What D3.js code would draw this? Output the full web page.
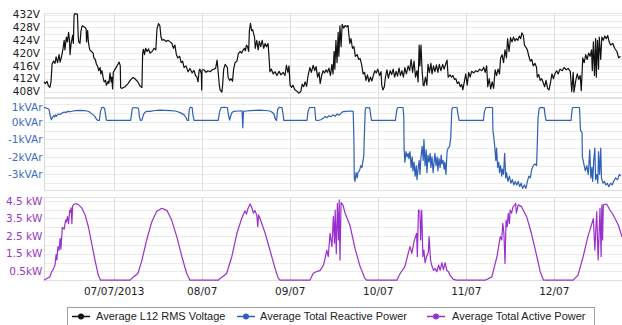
<!DOCTYPE html>
<html>
<head>
<meta charset="utf-8">
<script src="https://cdn.jsdelivr.net/npm/d3@7"></script>
<style>
  html, body { margin: 0; padding: 0; background: #fff; }
  svg { display: block; }
</style>
</head>
<body>
<svg id="chart" width="622" height="325"></svg>
<script>
// ---------- DATA (hours since 06/07/2013 00:00, value) ----------
const dayTicks = [24, 48, 72, 96, 120, 144];
const dayTickLabels = ["07/07/2013", "08/07", "09/07", "10/07", "11/07", "12/07"];
const timeDomainHours = [5, 162.6];

const voltageTicks = [408, 412, 416, 420, 424, 428, 432];
const voltageTickLabels = ["408V", "412V", "416V", "420V", "424V", "428V", "432V"];
const reactiveTicks = [-3, -2, -1, 0, 1];
const reactiveTickLabels = ["-3kVAr", "-2kVAr", "-1kVAr", "0kVAr", "1kVAr"];
const activeTicks = [0.5, 1.5, 2.5, 3.5, 4.5];
const activeTickLabels = ["0.5kW", "1.5 kW", "2.5 kW", "3.5 kW", "4.5 kW"];

const seriesNames = ["Average L12 RMS Voltage", "Average Total Reactive Power", "Average Total Active Power"];

const voltage = [
[5.0,411],[5.4,410.5],[5.8,411.2],[6.2,409.8],[6.6,409.3],[6.9,411],[7.2,416.5],[7.6,417.5],[8.0,416.8],[8.3,418.8],
[8.7,417],[9.1,419.5],[9.4,417.2],[9.8,419],[10.2,421.5],[10.5,424],[10.7,421],[11.1,425],[11.4,423.5],[11.7,426.5],
[11.95,424],[12.1,419.5],[12.4,423],[12.8,425.5],[13.0,423],[13.2,431.8],[13.4,432.3],[14.1,432.2],[14.35,425],[14.45,423.6],
[14.8,423],[15.1,427],[15.4,428.5],[15.9,428.2],[16.2,428],[16.5,427.5],[16.6,423.5],[16.9,427],[17.1,423.6],[17.3,422],
[17.5,421],[17.95,420.5],[18.4,420],[18.6,418.5],[19.0,418],[19.3,416.5],[19.6,416],[19.9,414.5],[20.3,415.5],[20.5,413.5],
[20.8,414.5],[21.1,412.5],[21.4,411],[21.8,411.5],[22.0,410],[22.5,411.2],[22.7,410.5],[23.0,413.8],[23.3,411],[23.5,412.5],
[23.7,408.8],[23.9,414],[24.4,415],[24.9,416],[25.5,417.2],[25.8,416],[25.9,409.2],[26.3,409],[27.1,409.5],[27.9,410.5],
[28.7,411.8],[29.3,412.4],[29.8,412],[30.6,411],[31.2,409.7],[31.7,409.3],[31.9,420],[32.1,421.2],[32.4,419.5],[32.7,421.5],
[33.1,420.5],[33.5,421.3],[33.9,420],[34.5,420.5],[35.0,421.5],[35.5,421],[35.8,427.5],[36.2,429.2],[36.6,428.5],[36.9,425],
[37.2,424],[37.7,424.2],[38.3,423.6],[38.8,424],[39.4,423.5],[39.9,423],[40.3,421.5],[40.7,422.5],[41.1,419.5],[41.5,418.5],
[42.0,419],[42.4,417],[42.8,417.5],[43.2,415.5],[43.7,416],[44.3,414.2],[44.8,415.2],[45.4,413.8],[45.9,414.6],[46.3,413],
[46.7,412.5],[47.0,411],[47.3,414.5],[47.5,415],[47.9,413.5],[48.0,408.5],[48.1,414.8],[48.6,414.8],[49.2,414],[49.7,414.5],
[50.3,414.2],[50.8,414.7],[51.4,415],[51.8,415.3],[52.2,417.8],[52.5,414],[52.8,410],[53.0,408.5],[53.5,407.8],[53.7,410],
[54.0,415],[54.4,416.5],[55.0,415.5],[55.2,412.5],[55.6,411.5],[56.0,412],[56.4,411.2],[56.7,415],[57.1,417],[57.6,417.5],
[58.0,419.8],[58.5,420.5],[58.9,420],[59.3,421],[59.7,421.5],[59.9,420.7],[60.2,422.5],[60.5,422],[60.8,420.5],[61.0,427],
[61.3,429.3],[61.6,427],[61.9,427.3],[62.1,426.3],[62.4,425],[62.6,421.5],[63.0,424],[63.4,421],[63.7,423.7],[64.1,422],
[64.5,424],[64.9,421.5],[65.3,423],[65.7,422],[66.1,423],[66.4,418],[66.6,414.2],[67.0,415],[67.5,413.5],[68.0,414.2],
[68.5,413],[69.1,414.3],[69.6,413.2],[70.2,414],[70.7,413],[71.1,416.2],[71.5,414],[71.8,416],[72.1,410],[72.5,409.3],
[72.9,410],[73.3,408.7],[73.7,408.3],[74.1,408],[74.5,407.5],[75.0,408],[75.4,410.3],[75.8,409.5],[76.2,411],[76.6,409.6],
[77.0,413],[77.5,415.5],[77.9,414],[78.4,416.2],[78.8,414.5],[79.2,415.8],[79.6,412.5],[80.0,414],[80.3,410.5],[80.7,413],
[81.1,414.5],[81.5,413.8],[81.9,414.8],[82.3,414],[82.7,415.3],[83.1,413],[83.5,416.5],[83.8,413.5],[84.1,420.5],[84.3,415],
[84.6,424],[84.9,417],[85.2,426.5],[85.4,419],[85.7,428.5],[86.0,422],[86.3,429],[86.7,427.8],[87.1,428.6],[87.5,428.2],
[87.9,428.6],[88.1,426],[88.4,423],[88.7,424.5],[89.1,421.5],[89.5,422],[89.9,419],[90.4,419.5],[90.8,418],[91.2,418.3],
[91.6,416.5],[92.0,413.5],[92.4,414],[92.8,411.5],[93.2,413.2],[93.6,411],[94.0,412.5],[94.4,411.3],[94.8,413],[95.2,414.5],
[95.6,413.8],[96.0,415],[96.5,413],[96.9,414.2],[97.1,410],[97.4,408.5],[97.8,409.5],[98.1,412.5],[98.5,414.8],[98.9,412.2],
[99.4,414.5],[99.8,413.3],[100.2,415],[100.6,412.5],[101.0,414.3],[101.4,412.8],[101.8,415.3],[102.2,413],[102.6,414.5],[103.0,412.5],
[103.4,415.5],[103.8,413.5],[104.3,416],[104.7,414.5],[105.1,418],[105.5,414],[105.9,417.5],[106.3,412.5],[106.7,414.5],[107.0,411],
[107.3,422.5],[107.5,416],[107.8,422.5],[108.1,414.5],[108.4,410],[108.6,409.8],[109.0,412.5],[109.4,410],[109.7,416.5],[110.1,414],
[110.5,416.8],[110.8,413.5],[111.2,416],[111.6,414.2],[112.0,416.3],[112.4,414],[112.8,416.5],[113.2,414.5],[113.7,416.5],[114.1,415],
[114.5,416.5],[114.9,417.8],[115.2,412.5],[115.7,413.2],[116.1,412.5],[116.5,413],[116.9,411.8],[117.3,412],[117.7,410.5],[118.1,411],
[118.5,409.5],[118.9,410.2],[119.2,408.5],[119.6,411],[120.0,413.5],[120.4,410],[120.8,414],[121.2,412.5],[121.6,414.3],[122.2,413.8],
[122.7,414.5],[123.3,414.2],[123.8,415],[124.4,414.5],[124.9,415.6],[125.3,414],[125.7,416],[126.0,409.5],[126.4,412],[126.8,408.8],
[127.2,411],[127.6,409],[128.0,414.8],[128.4,413],[128.8,415],[129.2,413.5],[129.5,418.5],[129.9,419.5],[130.3,417],[130.7,421],
[131.1,418.5],[131.4,424.5],[131.8,420.5],[132.2,424.8],[132.6,423.5],[133.0,425],[133.4,423.8],[133.8,424.5],[134.2,424],[134.6,425.3],
[135.0,424.5],[135.3,426.3],[135.7,425.5],[136.0,422.5],[136.4,421.8],[136.8,421],[137.2,419],[137.6,417.5],[138.0,418],[138.4,416],
[138.9,416.8],[139.3,415.5],[139.5,412.5],[139.9,413.3],[140.3,411.5],[140.7,412],[141.1,410.8],[141.5,409.5],[141.9,411.5],[142.3,409],
[142.7,408.5],[143.1,410.8],[143.5,413.5],[143.9,412],[144.4,413.8],[144.8,414.5],[145.2,413.5],[145.7,415],[146.3,414.5],[146.8,415.5],
[147.4,414.8],[147.9,415.2],[148.5,414.3],[148.9,408],[149.3,414],[149.5,407.8],[150.0,411.5],[150.4,413.5],[150.8,411.8],[151.2,413],
[151.5,408.3],[151.9,418.5],[152.3,417],[152.7,419.5],[153.1,418],[153.5,420],[153.9,419],[154.3,421],[154.5,414.5],[154.8,423.5],
[155.1,413],[155.4,424.5],[155.6,412.5],[155.9,424],[156.2,415],[156.4,425],[156.8,418],[157.1,425],[157.5,424],[157.9,425.3],
[158.3,424.5],[158.7,425.5],[159.1,423.5],[159.5,422.5],[160.1,423],[160.6,421.5],[161.2,420.5],[161.7,418.5],[162.2,419]
];

const reactive = [
[5.0,0.8],[5.3,0.82],[5.7,0.78],[6.1,0.75],[6.4,0.7],[6.6,0.45],[7.0,0.12],[7.3,0.25],[7.6,0.35],[7.9,0.28],
[8.1,0.4],[8.4,0.32],[8.8,0.45],[9.4,0.42],[9.9,0.5],[10.5,0.56],[11.0,0.54],[11.5,0.6],[12.1,0.58],[12.9,0.62],
[13.7,0.64],[14.8,0.66],[15.9,0.64],[16.7,0.62],[17.3,0.58],[17.8,0.5],[18.4,0.4],[18.9,0.3],[19.3,0.15],[19.7,0.08],
[20.1,0.08],[20.4,0.6],[20.7,0.8],[21.1,0.83],[21.5,0.78],[21.8,0.4],[22.0,0.1],[22.3,0.08],[28.6,0.08],[28.9,0.5],
[29.1,0.78],[29.5,0.82],[30.4,0.8],[30.8,0.75],[31.0,0.3],[31.3,0.08],[31.7,0.1],[32.1,0.4],[32.5,0.55],[33.1,0.6],
[33.9,0.6],[35.3,0.65],[36.6,0.67],[38.0,0.66],[39.4,0.64],[40.7,0.62],[41.5,0.58],[42.4,0.5],[43.2,0.4],[43.7,0.25],
[44.1,0.08],[44.4,0.08],[44.6,0.7],[44.9,0.83],[45.4,0.82],[45.6,0.4],[45.9,0.08],[52.5,0.08],[52.9,0.6],[53.3,0.82],
[54.1,0.83],[55.0,0.82],[55.3,0.4],[55.6,0.1],[55.9,0.35],[56.3,0.55],[56.8,0.6],[57.9,0.62],[59.0,0.63],[59.2,-0.34],
[59.4,0.6],[60.1,0.62],[61.2,0.64],[62.5,0.66],[63.9,0.67],[65.3,0.65],[66.6,0.62],[67.2,0.55],[67.7,0.45],[68.1,0.15],
[68.4,0.08],[68.7,0.7],[69.1,0.83],[69.9,0.82],[70.2,0.4],[70.4,0.08],[76.7,0.08],[77.0,0.6],[77.4,0.82],[78.8,0.82],
[79.1,0.1],[79.7,0.08],[80.5,0.12],[81.1,0.2],[81.6,0.3],[82.2,0.25],[82.7,0.35],[83.3,0.3],[83.8,0.4],[84.4,0.32],
[84.9,0.45],[85.4,0.38],[86.0,0.5],[86.5,0.58],[87.4,0.6],[88.4,0.62],[89.3,0.6],[89.5,-1.0],[89.6,-3.2],[89.8,-3.4],
[90.1,-2.9],[90.4,-3.2],[90.6,-2.9],[91.0,-2.8],[91.4,-2.5],[91.7,-2.6],[92.0,-2.2],[92.2,-1.9],[92.3,-1.1],[92.6,0.7],
[92.8,0.82],[93.8,0.8],[94.0,0.5],[94.3,0.08],[100.8,0.08],[101.2,0.7],[101.5,0.82],[102.9,0.82],[103.1,0.3],[103.2,-1.6],
[103.4,-2.3],[103.7,-1.7],[104.0,-2.0],[104.3,-1.8],[104.5,-2.1],[104.8,-1.7],[105.1,-2.6],[105.4,-2.0],[105.6,-2.8],[105.9,-2.3],
[106.2,-3.1],[106.5,-2.5],[106.7,-3.3],[107.0,-2.7],[107.3,-2.2],[107.5,-3.0],[107.8,-2.0],[108.1,-1.4],[108.4,-2.2],[108.6,-1.0],
[108.9,-2.5],[109.2,-1.6],[109.4,-2.9],[109.7,-1.9],[110.0,-2.3],[110.3,-1.8],[110.5,-2.6],[110.8,-2.0],[111.1,-2.9],[111.4,-2.2],
[111.6,-1.8],[111.9,-2.5],[112.2,-2.0],[112.4,-2.8],[112.7,-2.1],[113.0,-2.6],[113.3,-1.9],[113.5,-2.4],[113.8,-2.2],[114.1,-2.7],
[114.3,-2.3],[114.6,-3.0],[114.9,-1.7],[115.2,-1.5],[115.6,-1.4],[115.9,-0.9],[116.2,0.7],[116.5,0.82],[117.6,0.82],[117.9,0.4],
[118.2,0.08],[124.8,0.08],[125.1,0.6],[125.5,0.82],[127.3,0.82],[127.4,-0.5],[127.6,-0.8],[127.9,-1.4],[128.2,-2.2],[128.4,-1.5],
[128.7,-2.6],[129.0,-2.3],[129.2,-2.9],[129.5,-2.5],[129.8,-3.1],[130.0,-2.7],[130.3,-3.0],[130.6,-1.8],[130.9,-3.2],[131.1,-2.9],
[131.5,-3.4],[131.9,-3.1],[132.3,-3.5],[132.7,-3.3],[133.1,-3.6],[133.5,-3.4],[133.9,-3.6],[134.3,-3.4],[134.7,-3.7],[135.1,-3.5],
[135.5,-3.8],[136.0,-3.6],[136.4,-3.8],[136.8,-3.4],[137.2,-3.1],[137.6,-3.2],[138.0,-2.7],[138.4,-2.5],[138.9,-2.4],[139.3,-2.5],
[139.5,-1.3],[139.7,0.2],[140.0,0.75],[140.4,0.83],[141.4,0.8],[141.6,0.4],[141.9,0.08],[148.7,0.08],[149.0,0.7],[149.2,0.82],
[151.0,0.82],[151.3,-0.5],[151.7,-0.6],[151.8,-2.0],[152.2,-2.4],[152.6,-2.8],[153.0,-2.5],[153.4,-3.0],[153.8,-1.6],[154.1,-3.2],
[154.4,-2.6],[154.6,-3.4],[154.9,-2.2],[155.2,-1.5],[155.4,-3.3],[155.7,-3.0],[156.0,-3.5],[156.2,-1.7],[156.5,-3.0],[156.8,-1.5],
[157.0,-3.2],[157.4,-3.5],[157.8,-3.4],[158.2,-3.6],[158.6,-3.5],[159.0,-3.7],[159.5,-3.5],[159.9,-3.6],[160.3,-3.4],[160.8,-3.2],
[161.4,-3.3],[161.9,-3.0],[162.2,-3.1]
];

const active = [
[5.0,0],[5.8,0.1],[6.6,0.2],[7.1,0.48],[7.5,0.6],[8.0,0.86],[8.3,1.45],[8.5,1.15],[8.8,1.9],[9.1,1.7],
[9.4,2.37],[9.6,1.76],[10.0,2.99],[10.5,2.9],[10.9,3.41],[11.1,3.3],[11.4,3.6],[11.7,3.2],[12.0,3.95],[12.2,3.85],
[12.4,4.1],[12.6,3.2],[12.8,4.2],[13.2,4.32],[13.7,4.33],[14.3,4.3],[15.3,4.1],[16.2,3.7],[17.1,3.03],[18.0,2.09],
[18.9,1.14],[19.8,0.29],[20.4,0],[28.5,0],[29.3,0.17],[30.6,0.38],[31.6,1.05],[33.0,2.28],[34.4,3.32],[35.7,3.89],
[37.1,4.08],[38.5,3.96],[39.8,3.41],[41.2,2.47],[42.6,1.33],[43.9,0.38],[44.8,0],[52.5,0],[53.0,0.1],[54.8,0.38],
[56.2,1.33],[57.6,2.66],[58.9,3.5],[59.8,3.94],[60.2,3.75],[60.6,4.05],[61.2,4.32],[61.6,4.15],[62.1,3.8],[62.5,3.95],
[63.0,3.7],[63.3,3.03],[63.5,3.7],[63.9,3.5],[65.3,2.66],[66.6,1.71],[68.0,0.67],[68.9,0.1],[69.4,0],[77.5,0],
[78.4,0.38],[78.9,0.45],[80.3,0.56],[81.2,0.86],[81.6,1.2],[82.1,1.71],[82.5,1.33],[83.0,2.66],[83.5,1.9],[83.9,3.6],
[84.2,2.1],[84.4,3.98],[84.7,1.5],[85.0,4.36],[85.3,2.28],[85.5,4.55],[85.7,1.14],[86.0,4.4],[86.5,4.27],[87.1,3.8],
[88.4,3.13],[89.8,1.8],[91.2,0.77],[92.5,0.1],[93.0,0],[101.2,0],[102.1,0.38],[103.4,0.77],[104.3,1.52],[104.8,1.9],
[105.3,1.52],[105.9,2.2],[106.6,2.66],[106.8,1.33],[107.1,3.98],[107.5,3.9],[107.7,2.28],[108.0,3.98],[108.3,1.33],[108.6,1.7],
[108.9,0.99],[109.3,1.33],[109.8,1.6],[110.0,2.47],[110.4,1.14],[110.7,0.86],[111.2,0.56],[111.6,0.67],[112.1,0.48],[112.6,0.86],
[113.0,0.56],[113.5,0.99],[113.9,0.6],[114.4,0.99],[114.8,0.56],[115.3,0.48],[115.7,0.29],[116.6,0.05],[117.5,0],[125.3,0],
[127.1,0.19],[128.5,1.33],[129.4,2.47],[129.8,2.28],[130.1,3.22],[130.4,2.66],[130.7,0.95],[131.0,3.41],[131.3,3.03],[131.6,3.79],
[131.9,3.22],[132.1,3.98],[132.5,3.8],[132.9,4.17],[133.4,4.27],[133.6,4.36],[133.8,3.8],[134.3,4.27],[135.2,4.17],[136.6,3.6],
[137.9,2.66],[139.4,1.33],[140.3,0.48],[141.2,0],[149.3,0],[150.6,0.29],[152.0,1.33],[153.3,2.47],[154.8,3.5],[155.2,1.71],
[155.7,3.89],[156.1,1.14],[156.6,4.08],[156.9,1.33],[157.1,4.27],[157.3,2.28],[157.5,4.27],[158.4,4.32],[159.3,3.98],[160.2,3.7],
[161.6,3.13],[162.6,2.46]
];

// ---------- RENDER ----------
const svg = d3.select("#chart");
const base = Date.UTC(2013, 6, 6, 0, 0, 0);
const toDate = h => new Date(base + h * 3600 * 1000);

const x = d3.scaleUtc()
  .domain(timeDomainHours.map(toDate))
  .range([44, 622]);

const panels = [
  { data: voltage, domain: [406.3, 432.6], range: [97, 12.7], grid: d3.range(408, 433, 2),
    ticks: voltageTicks, labels: voltageTickLabels, color: "#111111", labelColor: "#222222", labelX: 40, minLabelY: null },
  { data: reactive, domain: [-3.89, 1.38], range: [190, 97.7], grid: d3.range(-3.5, 1.01, 0.5),
    ticks: reactiveTicks, labels: reactiveTickLabels, color: "#2f5fb8", labelColor: "#3c6cc4", labelX: 42.5, minLabelY: 107.7 },
  { data: active, domain: [0, 4.7], range: [280.2, 197.3], grid: d3.range(0.5, 4.51, 0.5),
    ticks: activeTicks, labels: activeTickLabels, color: "#9a2fd0", labelColor: "#9a35c8", labelX: 42.5, minLabelY: null }
];

const font = "'DejaVu Sans', Verdana, sans-serif";

panels.forEach(p => {
  const y = d3.scaleLinear().domain(p.domain).range(p.range);
  const g = svg.append("g");
  const top = p.range[1], bottom = p.range[0];

  // horizontal gridlines
  g.selectAll("line.h").data(p.grid).join("line")
    .attr("x1", 44).attr("x2", 622)
    .attr("y1", d => Math.round(y(d)) + 0.5).attr("y2", d => Math.round(y(d)) + 0.5)
    .attr("stroke", "#ebebeb").attr("stroke-width", 1);

  // vertical day gridlines
  g.selectAll("line.v").data(dayTicks).join("line")
    .attr("x1", d => Math.round(x(toDate(d))) + 0.5).attr("x2", d => Math.round(x(toDate(d))) + 0.5)
    .attr("y1", top).attr("y2", bottom)
    .attr("stroke", "#e0e0e0").attr("stroke-width", 1);

  // panel frame (left, top, bottom)
  g.append("line").attr("x1", 44.5).attr("x2", 44.5).attr("y1", top).attr("y2", bottom)
    .attr("stroke", "#d8d8d8");
  g.append("line").attr("x1", 44).attr("x2", 622).attr("y1", Math.round(top) + 0.5).attr("y2", Math.round(top) + 0.5)
    .attr("stroke", "#e4e4e4");
  g.append("line").attr("x1", 44).attr("x2", 622).attr("y1", Math.round(bottom) + 0.5).attr("y2", Math.round(bottom) + 0.5)
    .attr("stroke", "#e0e0e0");

  // y labels
  g.selectAll("text.yl").data(p.ticks).join("text")
    .attr("x", p.labelX)
    .attr("y", d => p.minLabelY !== null ? Math.max(y(d), p.minLabelY) : y(d))
    .attr("dy", "0.35em")
    .attr("text-anchor", "end")
    .attr("font-family", font).attr("font-size", "10.5px")
    .attr("fill", p.labelColor)
    .text((d, i) => p.labels[i]);

  // series line
  const line = d3.line()
    .x(d => x(toDate(d[0])))
    .y(d => y(d[1]));
  g.append("path").datum(p.data)
    .attr("d", line)
    .attr("fill", "none")
    .attr("stroke", p.color)
    .attr("stroke-width", 1.2)
    .attr("stroke-linejoin", "round");
});

// x axis labels
const xAxis = d3.axisBottom(x)
  .tickValues(dayTicks.map(toDate))
  .tickFormat((d, i) => dayTickLabels[i])
  .tickSize(0);
const xg = svg.append("g").attr("transform", "translate(0,283)").call(xAxis);
xg.select(".domain").remove();
xg.selectAll("text").attr("font-family", font).attr("font-size", "10.5px").attr("fill", "#222").attr("dy", "0.9em");

// legend
const legend = svg.append("g");
legend.append("rect").attr("x", 67.5).attr("y", 307.5).attr("width", 527).attr("height", 30)
  .attr("fill", "#fff").attr("stroke", "#a0a0a0");
const legendColors = ["#111111", "#2f5fb8", "#9a2fd0"];
const legendLineX = [72, 237, 427];
const legendTextX = [96, 260, 452];
seriesNames.forEach((name, i) => {
  legend.append("line").attr("x1", legendLineX[i]).attr("x2", legendLineX[i] + 18)
    .attr("y1", 316.5).attr("y2", 316.5).attr("stroke", legendColors[i]).attr("stroke-width", 1.5);
  legend.append("circle").attr("cx", legendLineX[i] + 9).attr("cy", 316.5).attr("r", 3)
    .attr("fill", legendColors[i]);
  legend.append("text").attr("x", legendTextX[i]).attr("y", 316.5).attr("dy", "0.35em")
    .attr("font-family", "'Liberation Sans', Arial, sans-serif").attr("font-size", "11px")
    .attr("fill", "#222").text(name);
});
</script>
</body>
</html>
